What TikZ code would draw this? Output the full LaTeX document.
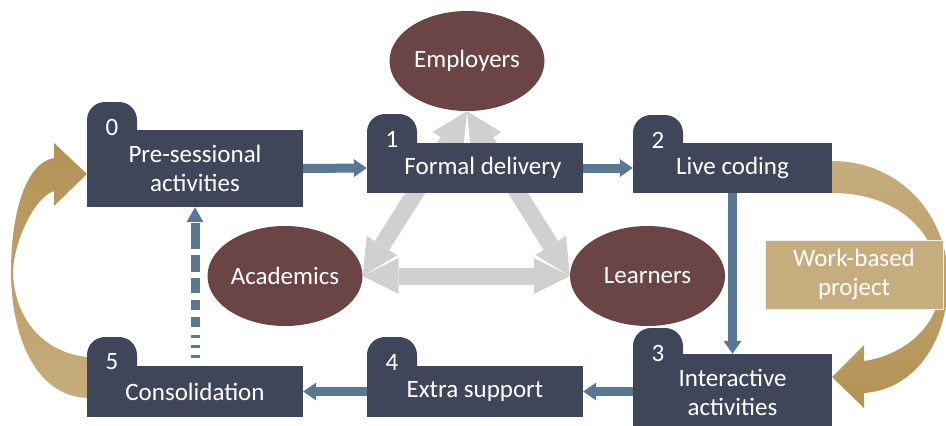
\documentclass[tikz,border=0pt]{standalone}
\usepackage{fontspec}
\setmainfont{Carlito}
\usetikzlibrary{arrows.meta,shapes.geometric}
\definecolor{boxc}{HTML}{404659}
\definecolor{ellc}{HTML}{6B4546}
\definecolor{bluec}{HTML}{5B7892}
\definecolor{grayc}{HTML}{D0D0D0}
\definecolor{goldl}{HTML}{C6AD7D}
\definecolor{goldd}{HTML}{B39254}
\pgfdeclarelayer{bg}
\pgfsetlayers{bg,main}
\tikzset{
  lbl/.style={font=\fontsize{25}{29.5}\selectfont},
  box/.style={lbl, fill=boxc, text=white, inner sep=0pt, align=center},
  tabnode/.style={fill=boxc, minimum width=50pt, minimum height=50pt, inner sep=0pt, rounded corners=18pt},
  digit/.style={lbl, text=white, inner sep=0pt},
  stake/.style={lbl, ellipse, fill=ellc, text=white, minimum width=155pt, minimum height=100pt, inner sep=0pt},
  flow/.style={draw=bluec, line width=9pt, -{Triangle[width=18pt,length=13pt,line width=0pt]}},
  link/.style={draw=grayc, line width=17pt, {Triangle[width=36pt,length=36pt,line width=0pt]}-{Triangle[width=36pt,length=36pt,line width=0pt]}},
  wbbox/.style={lbl, fill=goldl, draw=white!88!gray, line width=1pt, text=white, align=center, inner sep=0pt, minimum width=178pt, minimum height=69pt},
}
\begin{document}
\begin{tikzpicture}[x=1pt,y=-1pt]
\useasboundingbox (0,0) rectangle (946,426);

% stakeholders
\node[stake] (emp) at (467,61) {Employers};
\node[stake] (aca) at (285,276) {Academics};
\node[stake] (lea) at (647.5,276) {Learners};

\begin{pgfonlayer}{bg}
\draw[link] (emp.south) -- (aca.east);
\draw[link] (emp.south) -- (lea.west);
\draw[link] (aca.east) -- (lea.west);
\end{pgfonlayer}

% gold curved arrows
\shade[top color=goldd, bottom color=goldl]
  (87,398) .. controls (35,396) and (11,335) .. (11,272)
  .. controls (11,215) and (25,163) .. (54,158)
  -- (54,143) -- (87,174) -- (54,206) -- (54,191)
  .. controls (35,197) and (14,240) .. (13,272)
  .. controls (14,315) and (40,352) .. (87,357) -- cycle;
\shade[top color=goldl, bottom color=goldd]
  (832,161) .. controls (900,161) and (948,215) .. (948,280)
  .. controls (948,345) and (912,390) .. (864,393)
  -- (864,408) -- (832,377) -- (864,345) -- (864,361)
  .. controls (905,355) and (940,325) .. (940,285)
  .. controls (940,240) and (905,193) .. (832,193) -- cycle;

\node[wbbox] (wb) at (854,274.5) {Work-based\\project};

% number tabs (behind the boxes)
\node[tabnode] (t0) at (112,127) {};
\node[tabnode] (t1) at (392,139) {};
\node[tabnode] (t2) at (658,140) {};
\node[tabnode] (t3) at (658,353) {};
\node[tabnode] (t4) at (392,362) {};
\node[tabnode] (t5) at (112,362) {};

% process boxes
\node[box, minimum width=216pt, minimum height=77pt] (b0) at (195,168.5) {Pre-sessional\\activities};
\node[box, minimum width=216pt, minimum height=50pt] (b1) at (475,168) {\hspace*{16pt}Formal delivery};
\node[box, minimum width=199pt, minimum height=50pt] (b2) at (732.5,168) {Live coding};
\node[box, minimum width=199pt, minimum height=77pt] (b3) at (732.5,392.5) {Interactive\\activities};
\node[box, minimum width=216pt, minimum height=51pt] (b4) at (475,391.5) {Extra support};
\node[box, minimum width=216pt, minimum height=51pt] (b5) at (195,391.5) {Consolidation};

% digits
\node[digit] at (t0) {0};
\node[digit] at (t1) {1};
\node[digit] at (t2) {2};
\node[digit] at (t3) {3};
\node[digit] at (t4) {4};
\node[digit] at (t5) {5};

% flow arrows
\draw[flow] (b0.east) -- (b1.west);
\draw[flow] (b1.east) -- (b2.west);
\draw[flow] (b2.south) -- (b3.north);
\draw[flow] (b3.west |- b4.east) -- (b4.east);
\draw[flow] (b4.west) -- (b5.east);
\draw[draw=bluec, line width=9pt,
  dash pattern=on 0pt off 8pt on 3pt off 7pt on 3pt off 7pt on 3pt off 8pt on 10pt off 7pt on 10pt off 7pt on 15pt off 6pt on 17pt off 6pt on 26pt off 40pt,
  -{Triangle[width=17pt,length=15pt,line width=0pt]}] (b5.north) -- (b0.south);
\end{tikzpicture}
\end{document}
